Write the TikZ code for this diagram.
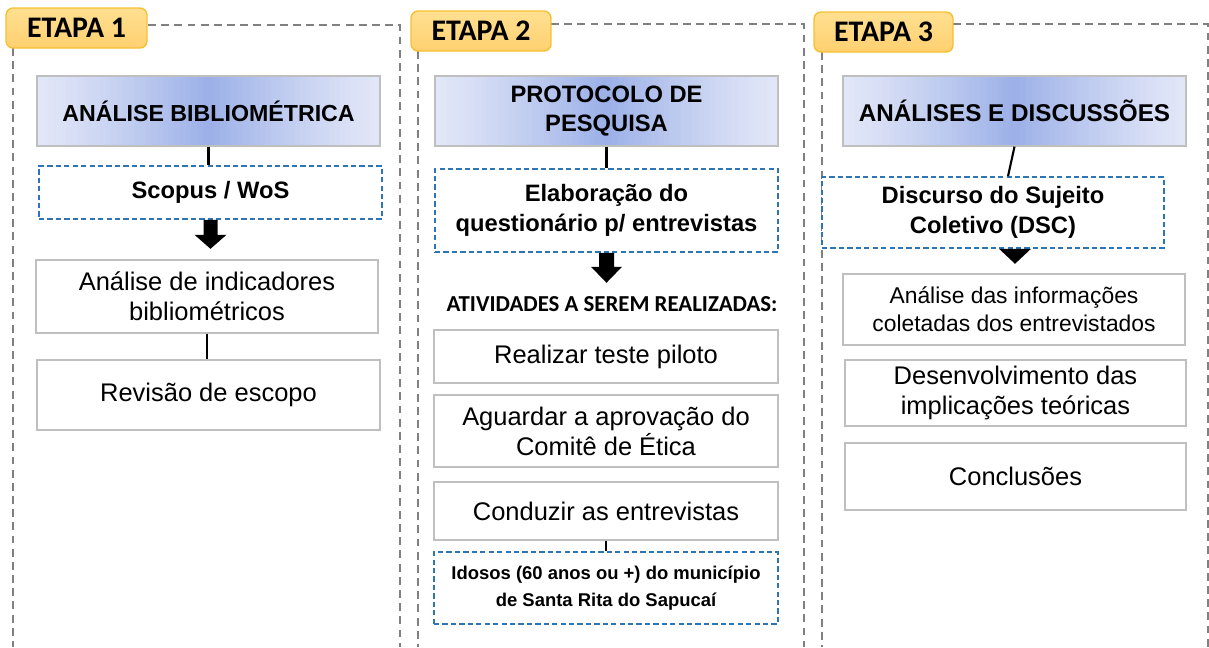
\documentclass[tikz,border=0pt]{standalone}
\usepackage{fontspec}
\setmainfont{Liberation Sans}
\newfontfamily\calib{Carlito}
\usetikzlibrary{calc}
\definecolor{frameg}{RGB}{128,128,128}
\definecolor{boxg}{RGB}{191,191,191}
\definecolor{dblue}{RGB}{46,117,182}
\definecolor{hin}{RGB}{156,176,232}
\definecolor{hout}{RGB}{226,231,247}
\definecolor{lbtop}{RGB}{255,224,145}
\definecolor{lbbot}{RGB}{255,208,112}
\definecolor{lbdraw}{RGB}{245,192,50}
\tikzset{
  stageframe/.style={draw=frameg, line width=0.9pt, dash pattern=on 4.5pt off 3pt},
  stagelabel/.style={draw=lbdraw, line width=0.8pt, rounded corners=4pt, top color=lbtop, bottom color=lbbot, inner sep=0pt, font=\calib\bfseries\fontsize{17}{20}\selectfont},
  hdr/.style={draw=boxg, line width=0.7pt, fill=hout, inner sep=0pt, align=center, font=\bfseries\fontsize{13.5}{17}\selectfont,
    path picture={
      \foreach \i in {0,...,59}{
        \pgfmathsetmacro\tt{abs((\i+0.5)/60*2-1)}
        \pgfmathsetmacro\pp{100*(1-\tt)^1.2}
        \fill[hin!\pp!hout] ($(path picture bounding box.south west)!{\i/60}!(path picture bounding box.south east)$) rectangle ($(path picture bounding box.north west)!{(\i+1.1)/60}!(path picture bounding box.north east)$);
      }
    }},
  dbox/.style={draw=dblue, line width=0.9pt, dash pattern=on 3pt off 1.8pt, fill=white, inner sep=0pt, align=center, font=\bfseries\fontsize{13.5}{17}\selectfont},
  wbox/.style={draw=boxg, line width=0.7pt, fill=white, inner sep=0pt, align=center, font=\fontsize{14.5}{17}\selectfont},
  conn/.style={draw=black, line width=1.2pt},
  blockarrow/.style={fill=black, draw=none}
}
\begin{document}
\begin{tikzpicture}[x=0.02cm, y=-0.02cm]
\useasboundingbox (0,0) rectangle (1209,647);
% stage frames
\draw[stageframe] (148,25) -- (400,25) -- (400,647);
\draw[stageframe] (13,48) -- (13,647);
\draw[stageframe] (551,24) -- (804,24) -- (804,647);
\draw[stageframe] (418,51) -- (418,647);
\draw[stageframe] (953,24) -- (1208,24) -- (1208,647);
\draw[stageframe] (822,52) -- (822,647);
% labels
\node[stagelabel, minimum width=2.82cm, minimum height=0.8cm] (L1) at (76.5,28) {ETAPA 1};
\node[stagelabel, minimum width=2.80cm, minimum height=0.8cm] (L2) at (481,31) {ETAPA 2};
\node[stagelabel, minimum width=2.78cm, minimum height=0.8cm] (L3) at (883.5,32) {ETAPA 3};

% ---- Stage 1
\node[hdr, minimum width=6.86cm, minimum height=1.4cm, font=\bfseries\fontsize{13.2}{17}\selectfont] (h1) at (208.5,111) {ANÁLISE BIBLIOMÉTRICA};
\node[dbox, minimum width=6.86cm, minimum height=1.06cm] (s1) at (210.5,192.5) {Scopus / WoS};
\node[wbox, minimum width=6.84cm, minimum height=1.46cm] (a1) at (207,296.5) {Análise de indicadores\\bibliométricos};
\node[wbox, minimum width=6.86cm, minimum height=1.4cm] (r1) at (208.5,395) {Revisão de escopo};
\draw[conn] (h1.south) -- (h1.south |- s1.north);
\draw[conn] (a1.south) -- (a1.south |- r1.north);
\fill[blockarrow] ($(s1.south)+(-7,0)$) -- ++(14,0) -- ++(0,15) -- ++(9,0) -- ++(-16,14) -- ++(-16,-14) -- ++(9,0) -- cycle;

% ---- Stage 2
\node[hdr, minimum width=6.86cm, minimum height=1.4cm] (h2) at (606.5,111) {PROTOCOLO DE\\PESQUISA};
\node[dbox, minimum width=6.86cm, minimum height=1.66cm] (e2) at (606.5,210.5) {Elaboração do\\questionário p/ entrevistas};
\node[font=\calib\bfseries\fontsize{13}{16}\selectfont, inner sep=0pt] (t2) at (612,304) {ATIVIDADES A SEREM REALIZADAS:};
\node[wbox, minimum width=6.88cm, minimum height=1.06cm] (p2) at (606,356.5) {Realizar teste piloto};
\node[wbox, minimum width=6.88cm, minimum height=1.44cm] (g2) at (606,431) {Aguardar a aprovação do\\Comitê de Ética};
\node[wbox, minimum width=6.88cm, minimum height=1.16cm] (c2) at (606,511) {Conduzir as entrevistas};
\node[dbox, minimum width=6.88cm, minimum height=1.44cm, font=\bfseries\fontsize{10.5}{15}\selectfont] (i2) at (606,588) {Idosos (60 anos ou +) do município\\de Santa Rita do Sapucaí};
\draw[conn] (h2.south) -- (h2.south |- e2.north);
\draw[conn] (c2.south) -- (c2.south |- i2.north);
\fill[blockarrow] ($(e2.south)+(-7.5,0)$) -- ++(15,0) -- ++(0,14) -- ++(8,0) -- ++(-15.5,16) -- ++(-15.5,-16) -- ++(8,0) -- cycle;

% ---- Stage 3
\node[hdr, minimum width=6.86cm, minimum height=1.4cm, font=\bfseries\fontsize{13.8}{17}\selectfont] (h3) at (1014.5,111) {ANÁLISES E DISCUSSÕES};
\node[dbox, minimum width=6.84cm, minimum height=1.42cm] (d3) at (993,212.5) {Discurso do Sujeito\\Coletivo (DSC)};
\node[wbox, minimum width=6.84cm, minimum height=1.42cm, font=\fontsize{13}{16}\selectfont] (a3) at (1014,309.5) {Análise das informações\\coletadas dos entrevistados};
\node[wbox, minimum width=6.82cm, minimum height=1.32cm] (v3) at (1015.5,393) {Desenvolvimento das\\implicações teóricas};
\node[wbox, minimum width=6.82cm, minimum height=1.34cm] (k3) at (1015.5,476.5) {Conclusões};
\draw[conn] (h3.south) -- ($(d3.north)+(15,0)$);
\draw[conn] ($(a3.south)+(-1,0)$) -- ($(a3.south)+(-1,0)$ |- v3.north);
\draw[conn] ($(v3.south)+(-2,0)$) -- ($(v3.south)+(-2,0)$ |- k3.north);
\fill[blockarrow] ($(d3.south)+(6,0)$) -- ++(32,0) -- ++(-16,15) -- cycle;
\end{tikzpicture}
\end{document}
